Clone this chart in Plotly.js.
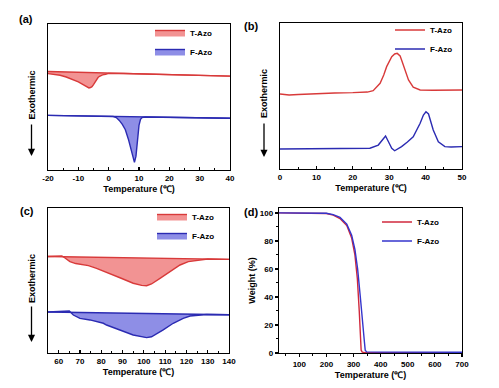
<!DOCTYPE html>
<html>
<head>
<meta charset="utf-8">
<script src="https://cdn.plot.ly/plotly-3.0.1.min.js"></script>
<style>html,body{margin:0;padding:0;background:#fff;}#chart{width:499px;height:388px;}</style>
</head>
<body>
<div id="chart"></div>
<script>
// ---------- data ----------
const seriesNames = ["T-Azo", "F-Azo"];
const panelLabels = ["(a)", "(b)", "(c)", "(d)"];
const xTitle = "Temperature (℃)";
const yTitleDSC = "Exothermic";
const yTitleTGA = "Weight (%)";
const aTickVals = [-20, -10, 0, 10, 20, 30, 40];
const aTickText = ["-20", "-10", "0", "10", "20", "30", "40"];

// (a) DSC cooling, heat flow in arbitrary units
const aTempT = [-20,-18,-16,-14,-12,-10,-9,-8,-7,-6.5,-6,-5.5,-5,-4.5,-4,-3.5,-3,-2.5,-2,-1,0,5,10,20,30,40];
const aHeatT = [66.0,65.6,64.9,63.7,62.2,60.3,59.2,57.8,56.6,56.2,56.5,57.1,58.5,60.2,61.9,63.3,64.2,64.8,65.2,65.6,66.2,66.1,65.9,65.4,64.8,64.3];
const aBaseTempT = [-20, 40];
const aBaseHeatT = [67.5, 64.3];
const aTempF = [-20,-10,0,1.5,2.5,3.5,4.5,5.5,6.5,7.5,8,8.5,9,9.5,10,10.5,11,12,20,30,40];
const aHeatF = [37.4,37.05,36.7,36.6,35.9,34.0,31.3,27.6,21.1,12.9,8.5,5.2,9.5,21.1,30.6,34.7,35.9,36.3,36.07,35.73,35.4];
const aBaseTempF = [-20, 40];
const aBaseHeatF = [37.4, 35.4];

// (b) DSC heating
const bTempT = [0,2.5,5,10,15,20,24,25.6,27.5,28.5,29.3,30.7,31.5,32.2,33,33.4,34.3,35.3,36.6,38.5,42,50];
const bHeatT = [51.4,50.7,51.0,51.7,52.1,52.3,52.7,53.6,58.7,64.4,70.1,76.9,78.8,79.2,77.4,74.7,67.8,61.0,56.0,54.1,53.9,54.1];
const bTempF = [0,10,20,24.7,27,28.4,29,29.8,30.7,31.5,33.4,35,36.6,38.5,39.4,40.1,40.8,42.1,43.5,45.3,47,50];
const bHeatF = [13.7,13.7,13.7,14.2,16.4,21.0,22.6,18.7,14.2,12.5,15.3,18.5,22.1,31.3,37.0,39.2,37.7,26.7,18.7,15.3,15.1,15.3];

// (c) DSC
const cTempT = [55,58,60,61.5,63,65.3,68,70,74,77.8,82.5,88.8,95,99,101.3,103.6,107.6,112.3,117,120.9,126.4,130,135,140];
const cHeatT = [66.6,66.9,67.2,66.9,65.5,63.0,61.7,61.2,60.3,58.4,55.4,51.9,48.1,46.6,46.4,47.6,51.5,56.1,60.7,63.0,64.1,64.8,64.7,64.6];
const cBaseTempT = [55, 140];
const cBaseHeatT = [66.6, 64.6];
const cTempF = [55,60,63,65,66.9,70,74.7,78,81,82.5,88.8,95,101.3,103.6,109.1,113.8,118.5,121.7,129.5,140];
const cHeatF = [28.3,28.6,29.2,29.0,26.2,23.9,22.8,21.7,20.5,19.3,15.9,12.4,10.6,11.2,15.9,20.5,23.9,25.5,26.6,26.4];
const cBaseTempF = [55, 140];
const cBaseHeatF = [28.3, 26.4];

// (d) TGA
const dTempT = [25,100,150,200,225,250,275,293,305,314,321,325,328,332,340,400,500,600,700];
const dWeightT = [100,100,99.9,99.6,98.4,96,91,82,70,53,30,14,2,0.6,0.4,0.3,0.3,0.3,0.3];
const dTempF = [25,100,150,200,225,250,275,293,305,315,325,333,340,343,348,400,500,600,700];
const dWeightF = [100,100,100,99.7,98.8,96.8,92,84,74,60,40,20,8,2,0.8,0.6,0.5,0.5,0.5];

// ---------- styling ----------
const W = 499, H = 388;
const px = v => v / W;
const py = v => 1 - v / H;
const RED = '#D83A3A', BLUE = '#2B2BB2';
const RED_FILL = '#F29393', BLUE_FILL = '#8E8EE6';
const FONT = 'Liberation Sans, Arial, Helvetica, sans-serif';
const bold = (size) => ({family: FONT, size: size, color: '#000', weight: 'bold'});
const LW = 1.4;

function base(x, y, c, xa, ya) {
  return {x: x, y: y, type: 'scatter', mode: 'lines', xaxis: xa, yaxis: ya,
          line: {color: c, width: LW}, showlegend: false, hoverinfo: 'skip'};
}
function curve(x, y, c, name, xa, ya, leg, fillc) {
  const t = {x: x, y: y, type: 'scatter', mode: 'lines', name: name, xaxis: xa, yaxis: ya,
             line: {color: c, width: LW}, legend: leg};
  if (fillc) { t.fill = 'tonexty'; t.fillcolor = fillc; }
  return t;
}

const data = [
  base(aBaseTempT, aBaseHeatT, RED, 'x', 'y'),
  curve(aTempT, aHeatT, RED, seriesNames[0], 'x', 'y', 'legend', RED_FILL),
  base(aBaseTempF, aBaseHeatF, BLUE, 'x', 'y'),
  curve(aTempF, aHeatF, BLUE, seriesNames[1], 'x', 'y', 'legend', BLUE_FILL),

  curve(bTempT, bHeatT, RED, seriesNames[0], 'x2', 'y2', 'legend2'),
  curve(bTempF, bHeatF, BLUE, seriesNames[1], 'x2', 'y2', 'legend2'),

  base(cBaseTempT, cBaseHeatT, RED, 'x3', 'y3'),
  curve(cTempT, cHeatT, RED, seriesNames[0], 'x3', 'y3', 'legend3', RED_FILL),
  base(cBaseTempF, cBaseHeatF, BLUE, 'x3', 'y3'),
  curve(cTempF, cHeatF, BLUE, seriesNames[1], 'x3', 'y3', 'legend3', BLUE_FILL),

  curve(dTempT, dWeightT, '#D0283C', seriesNames[0], 'x4', 'y4', 'legend4'),
  curve(dTempF, dWeightF, '#3434CC', seriesNames[1], 'x4', 'y4', 'legend4')
];

function xaxis(domain, range, dtick, minor, anchor, tickdir) {
  return {domain: domain, range: range, anchor: anchor, dtick: dtick, tick0: 0,
          showgrid: false, zeroline: false, showline: true, mirror: true,
          linecolor: '#000', linewidth: 1.3, ticks: tickdir, ticklen: 3, tickwidth: 1.2, tickcolor: '#000',
          minor: {dtick: minor, tick0: 0, ticks: tickdir, ticklen: 2, tickwidth: 1, tickcolor: '#000'},
          tickfont: bold(8), automargin: false,
          title: {text: xTitle, font: bold(9), standoff: 3}};
}
function yaxisDSC(domain, anchor) {
  return {domain: domain, range: [0, 100], anchor: anchor, showgrid: false, zeroline: false,
          showline: true, mirror: true, linecolor: '#000', linewidth: 1.3,
          showticklabels: false, ticks: '', automargin: false};
}
function legend(x, y) {
  return {x: px(x), y: py(y), xanchor: 'left', yanchor: 'top', bgcolor: 'rgba(0,0,0,0)',
          font: bold(8), tracegroupgap: 0, itemwidth: 30, traceorder: 'normal'};
}
function ylab(x, y) {
  return {text: yTitleDSC, x: px(x), y: py(y), xref: 'paper', yref: 'paper', xanchor: 'center', yanchor: 'middle',
          textangle: -90, showarrow: false, font: bold(9)};
}
function arrow(x, yTip, len) {
  return {text: '', x: px(x), y: py(yTip), xref: 'paper', yref: 'paper', showarrow: true, ax: 0, ay: -len,
          arrowhead: 2, arrowsize: 1.1, arrowwidth: 1.3, arrowcolor: '#000', standoff: 0};
}
function plab(t, x, y) {
  return {text: t, x: px(x), y: py(y), xref: 'paper', yref: 'paper', xanchor: 'left', yanchor: 'middle',
          showarrow: false, font: bold(11)};
}

const xa = xaxis([px(48), px(230)], [-20, 40], 10, 5, 'y', 'inside');
xa.tickmode = 'array';
xa.tickvals = aTickVals;
xa.ticktext = aTickText;

const layout = {
  width: W, height: H,
  margin: {l: 0, r: 0, t: 0, b: 0},
  paper_bgcolor: '#fff', plot_bgcolor: '#fff',
  font: bold(8),
  xaxis: xa,
  yaxis: yaxisDSC([py(170), py(24)], 'x'),
  xaxis2: xaxis([px(280), px(462)], [0, 50], 10, 5, 'y2', 'inside'),
  yaxis2: yaxisDSC([py(169), py(23)], 'x2'),
  xaxis3: xaxis([px(48), px(229)], [55, 140], 10, 5, 'y3', 'inside'),
  yaxis3: yaxisDSC([py(353), py(208)], 'x3'),
  xaxis4: xaxis([px(279), px(462)], [25, 700], 100, 50, 'y4', 'outside'),
  yaxis4: {domain: [py(353), py(208)], range: [0, 103.5], anchor: 'x4', dtick: 20, tick0: 0,
           showgrid: false, zeroline: false, showline: true, mirror: true,
           linecolor: '#000', linewidth: 1.3, ticks: 'outside', ticklen: 3, tickwidth: 1.2, tickcolor: '#000',
           minor: {dtick: 10, ticks: 'outside', ticklen: 2, tickwidth: 1, tickcolor: '#000'},
           tickfont: bold(8), automargin: false,
           title: {text: yTitleTGA, font: bold(9), standoff: 2}},
  showlegend: true,
  legend: legend(150, 18),
  legend2: legend(390, 15.5),
  legend3: legend(152, 202),
  legend4: legend(377, 207.5),
  annotations: [
    plab(panelLabels[0], 17, 18.5),
    plab(panelLabels[1], 242, 26.5),
    plab(panelLabels[2], 18, 211),
    plab(panelLabels[3], 242, 212),
    ylab(31.5, 95), ylab(264, 94), ylab(31.5, 278.5),
    arrow(31.5, 156, 33), arrow(264, 157, 35), arrow(31.5, 342, 37)
  ]
};

Plotly.newPlot('chart', data, layout, {staticPlot: true, displayModeBar: false});
</script>
</body>
</html>
